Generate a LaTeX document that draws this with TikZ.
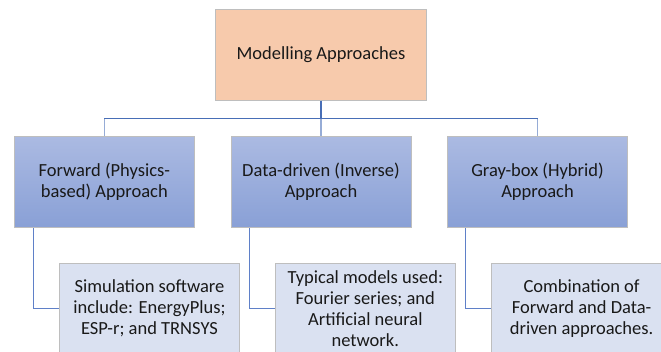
\documentclass[tikz,border=0pt]{standalone}
\usepackage{fontspec}
\setmainfont{Carlito}
\definecolor{peach}{RGB}{247,202,172}
\definecolor{shadetop}{RGB}{171,186,226}
\definecolor{shadebot}{RGB}{137,160,214}
\definecolor{paleblue}{RGB}{218,225,241}
\definecolor{edgegray}{RGB}{190,190,190}
\definecolor{linkdark}{RGB}{72,110,182}
\definecolor{linklight}{RGB}{150,172,214}
\definecolor{linkmid}{RGB}{95,128,200}
\tikzset{
  box/.style={draw=edgegray, line width=0.8pt, inner sep=0pt, align=center,
    font=\fontsize{18.5}{21}\selectfont, text=black!90},
  rootbox/.style={box, fill=peach, minimum width=211pt, minimum height=91pt},
  approachbox/.style={box, top color=shadetop, bottom color=shadebot,
    minimum width=180pt, minimum height=91.5pt},
  detailbox/.style={box, fill=paleblue, minimum width=180pt, minimum height=90pt},
  trunk/.style={draw=linkdark, line width=2pt},
  bus/.style={draw=linkdark, line width=1.3pt},
  drop/.style={draw=linklight, line width=1.3pt},
  elbow/.style={draw=linkmid, line width=1pt},
}
\begin{document}
\begin{tikzpicture}[x=1pt,y=-1pt]
\useasboundingbox (0,0) rectangle (661,351);
\fill[white] (0,0) rectangle (661,351);
\clip (0,0) rectangle (661,351);

% root and first level
\node[rootbox] (root) at (321,54.8) {Modelling Approaches};
\node[approachbox] (fwd) at (104.3,182) {Forward (Physics-\\based) Approach};
\node[approachbox] (data) at (321,182) {Data-driven (Inverse)\\Approach};
\node[approachbox] (gray) at (537.5,182) {Gray-box (Hybrid)\\Approach};

% detail boxes
\node[detailbox] (fwdd) at (149.5,308.3) {Simulation software\\include: EnergyPlus;\\ESP-r; and TRNSYS};
\node[detailbox] (datad) at (365.3,308.3) {Typical models used:\\Fourier series; and\\Artificial neural\\network.};
\node[detailbox] (grayd) at (581.6,308.3) {Combination of\\Forward and Data-\\driven approaches.};

% tree connectors
\coordinate (busL) at (fwd.north |- 0,118.3);
\coordinate (busR) at (gray.north |- 0,118.3);
\coordinate (busM) at (root.south |- 0,118.3);
\draw[drop] (busM) -- (data.north);
\draw[drop] (busL) -- (fwd.north);
\draw[drop] (busR) -- (gray.north);
\draw[bus] (busL) -- (busR);
\draw[trunk] (root.south) -- (busM);

% elbow connectors to detail boxes
\draw[elbow] (fwd.south west) ++(19.4,0) |- (fwdd.west);
\draw[elbow] (data.south west) ++(18.6,0) |- (datad.west);
\draw[elbow] (gray.south west) ++(18.5,0) |- (grayd.west);
\end{tikzpicture}
\end{document}
